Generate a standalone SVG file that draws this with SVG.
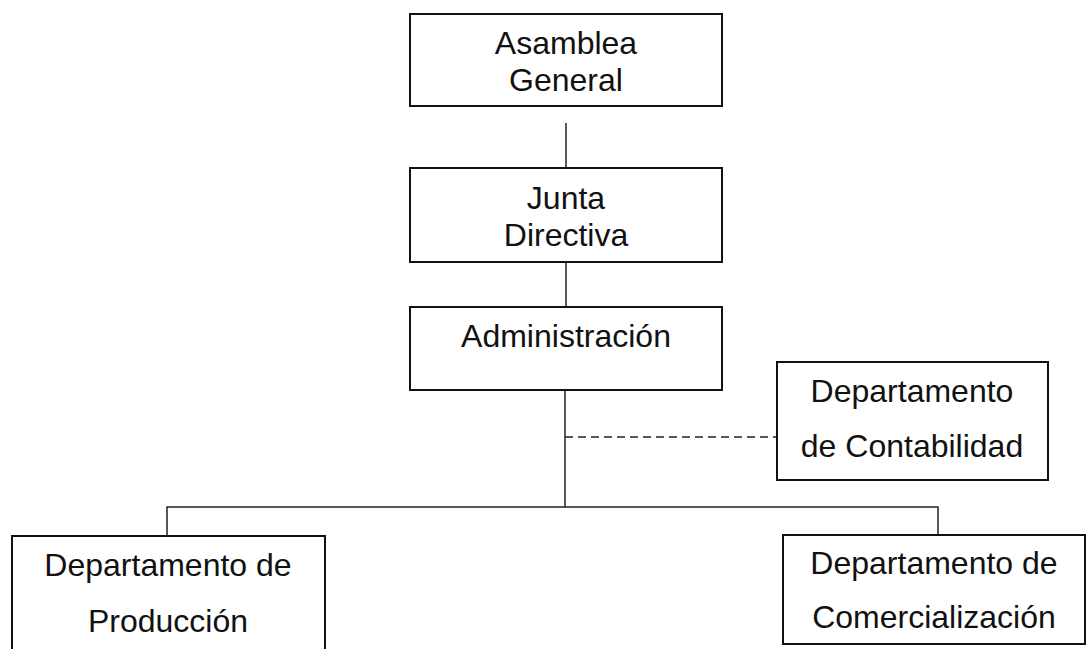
<svg xmlns="http://www.w3.org/2000/svg" width="1087" height="649" viewBox="0 0 1087 649">
<style>
.box{fill:#fff;stroke:#111;stroke-width:2}
.t{font-family:"Liberation Sans",Arial,sans-serif;font-size:32px;fill:#111;text-anchor:middle}
.c{stroke:#222;stroke-width:1.5;fill:none}
.d{stroke-dasharray:8,5}
</style>
<rect width="1087" height="649" fill="#fff"/>
<g id="connectors">
<line class="c" x1="566" y1="123" x2="566" y2="168"/>
<line class="c" x1="566" y1="262" x2="566" y2="307"/>
<line class="c" x1="565" y1="390" x2="565" y2="507"/>
<line class="c d" x1="565" y1="437" x2="777" y2="437"/>
<polyline class="c" points="167,536 167,507 938,507 938,535"/>
</g>
<g id="asamblea">
<rect class="box" x="410" y="14" width="312" height="92"/>
<text class="t" x="566" y="54">Asamblea</text>
<text class="t" x="566" y="91">General</text>
</g>
<g id="junta">
<rect class="box" x="410" y="168" width="312" height="94"/>
<text class="t" x="566" y="209">Junta</text>
<text class="t" x="566" y="246">Directiva</text>
</g>
<g id="administracion">
<rect class="box" x="410" y="307" width="312" height="83"/>
<text class="t" x="566" y="347">Administración</text>
</g>
<g id="contabilidad">
<rect class="box" x="777" y="362" width="271" height="118"/>
<text class="t" x="912" y="402">Departamento</text>
<text class="t" x="912" y="457">de Contabilidad</text>
</g>
<g id="produccion">
<rect class="box" x="12" y="536" width="313" height="130"/>
<text class="t" x="168" y="576">Departamento de</text>
<text class="t" x="168" y="632">Producción</text>
</g>
<g id="comercializacion">
<rect class="box" x="783" y="535" width="302" height="109"/>
<text class="t" x="934" y="574">Departamento de</text>
<text class="t" x="934" y="628">Comercialización</text>
</g>
</svg>
